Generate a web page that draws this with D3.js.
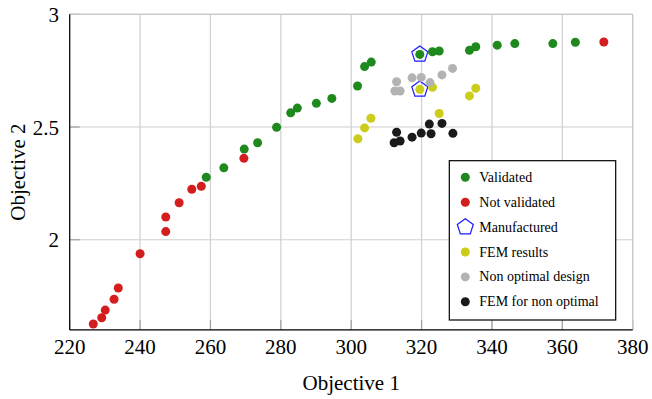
<!DOCTYPE html>
<html><head><meta charset="utf-8">
<script src="https://cdn.jsdelivr.net/npm/d3@7"></script>
<style>body{margin:0;background:#fff}svg{display:block}</style>
</head><body>
<svg id="c" width="652" height="399"></svg>
<script>
const xTicks = [220,240,260,280,300,320,340,360,380];
const yTicks = [2,2.5,3];
const yTickLabels = ["2","2.5","3"];
const xTickLabels = ["220","240","260","280","300","320","340","360","380"];

const validatedX = [258.8,263.8,269.6,273.4,278.8,282.8,284.7,290.1,294.5,301.8,303.8,305.7,319.5,323.1,325.0,333.6,335.4,341.5,346.5,357.3,363.7];
const validatedY = [2.277,2.319,2.402,2.430,2.499,2.563,2.584,2.605,2.627,2.682,2.768,2.788,2.822,2.834,2.837,2.840,2.856,2.863,2.870,2.870,2.876];
const notValidatedX = [226.7,229.1,230.1,232.6,233.8,240.0,247.3,247.3,251.1,254.7,257.4,269.5,371.8];
const notValidatedY = [1.626,1.654,1.688,1.736,1.786,1.938,2.036,2.101,2.164,2.224,2.237,2.361,2.877];
const manufacturedX = [319.5,319.5];
const manufacturedY = [2.822,2.667];
const femX = [301.9,303.8,305.6,319.5,323.1,325.0,333.6,335.4];
const femY = [2.448,2.496,2.539,2.667,2.676,2.560,2.638,2.672];
const nonOptX = [312.9,312.4,313.9,317.3,319.9,322.4,325.8,328.8];
const nonOptY = [2.701,2.660,2.660,2.718,2.720,2.697,2.731,2.760];
const femNonOptX = [312.9,312.2,313.9,317.3,319.9,322.2,322.7,325.8,328.9];
const femNonOptY = [2.477,2.430,2.438,2.455,2.473,2.513,2.470,2.516,2.472];

const seriesNames = ["Validated","Not validated","Manufactured","FEM results","Non optimal design","FEM for non optimal"];

const svg = d3.select("#c");
const L = 69.7, R = 632.7, T = 14.3, B = 329.9;
const x = d3.scaleLinear().domain([220,380]).range([L,R]);
const y = d3.scaleLinear().domain([1.6,3]).range([B,T]);
const font = "'Liberation Serif','Times New Roman',serif";

// grid
const g = svg.append("g");
g.selectAll(".gx").data(xTicks).enter().append("line")
  .attr("x1",d=>x(d)).attr("x2",d=>x(d)).attr("y1",T).attr("y2",B)
  .attr("stroke","#d0d0d0").attr("stroke-width",1.2);
g.selectAll(".gy").data(yTicks).enter().append("line")
  .attr("x1",L).attr("x2",R).attr("y1",d=>y(d)).attr("y2",d=>y(d))
  .attr("stroke","#d0d0d0").attr("stroke-width",1.2);
// inner ticks
g.selectAll(".tx").data(xTicks).enter().append("line")
  .attr("x1",d=>x(d)).attr("x2",d=>x(d)).attr("y1",B).attr("y2",B-10)
  .attr("stroke","#a0a0a0").attr("stroke-width",1.2);
g.selectAll(".ty").data(yTicks).enter().append("line")
  .attr("x1",L).attr("x2",L+10).attr("y1",d=>y(d)).attr("y2",d=>y(d))
  .attr("stroke","#a0a0a0").attr("stroke-width",1.2);
// frame
g.append("line").attr("x1",L).attr("x2",R).attr("y1",T).attr("y2",T).attr("stroke","#c8c8c8").attr("stroke-width",1.2);
g.append("line").attr("x1",R).attr("x2",R).attr("y1",T).attr("y2",B).attr("stroke","#c8c8c8").attr("stroke-width",1.2);
g.append("line").attr("x1",L).attr("x2",R).attr("y1",B).attr("y2",B).attr("stroke","#000").attr("stroke-width",1.2);
g.append("line").attr("x1",L).attr("x2",L).attr("y1",T).attr("y2",B).attr("stroke","#000").attr("stroke-width",1.2);

// tick labels
svg.selectAll(".xl").data(xTicks).enter().append("text")
  .attr("x",d=>x(d)).attr("y",354).attr("text-anchor","middle")
  .attr("font-family",font).attr("font-size",21).text((d,i)=>xTickLabels[i]);
svg.selectAll(".yl").data(yTicks).enter().append("text")
  .attr("x",59).attr("y",d=>y(d)+7.5).attr("text-anchor","end")
  .attr("font-family",font).attr("font-size",21).text((d,i)=>yTickLabels[i]);

// axis titles
svg.append("text").attr("x",(L+R)/2).attr("y",390).attr("text-anchor","middle")
  .attr("font-family",font).attr("font-size",21).text("Objective 1");
svg.append("text").attr("transform",`translate(25,${(T+B)/2}) rotate(-90)`).attr("text-anchor","middle")
  .attr("font-family",font).attr("font-size",21).text("Objective 2");

const colors = {green:"#1e8a1e", red:"#d41e1e", yellow:"#cccc1a", gray:"#b3b3b3", black:"#1a1a1a", blue:"#1a1aff"};
const r = 4.5;
function dots(xs, ys, color){
  svg.append("g").selectAll("circle").data(xs).enter().append("circle")
    .attr("cx",d=>x(d)).attr("cy",(d,i)=>y(ys[i])).attr("r",r).attr("fill",color);
}
const PR = 8.4;
function pentPath(cx, cy){
  const pts = d3.range(5).map(k=>{const a=-Math.PI/2 + k*2*Math.PI/5; return [cx+PR*Math.cos(a), cy+PR*Math.sin(a)];});
  return "M"+pts.map(p=>p.join(",")).join("L")+"Z";
}
dots(validatedX, validatedY, colors.green);
dots(notValidatedX, notValidatedY, colors.red);
svg.append("g").selectAll("path").data(manufacturedX).enter().append("path")
  .attr("d",(d,i)=>pentPath(x(d), y(manufacturedY[i]))).attr("fill","none")
  .attr("stroke",colors.blue).attr("stroke-width",1.2);
dots(femX, femY, colors.yellow);
dots(nonOptX, nonOptY, colors.gray);
dots(femNonOptX, femNonOptY, colors.black);

// legend
const lg = svg.append("g");
lg.append("rect").attr("x",449.3).attr("y",160.7).attr("width",166.4).attr("height",159.3)
  .attr("fill","#fff").attr("stroke","#000").attr("stroke-width",1.2);
const legColors = [colors.green, colors.red, null, colors.yellow, colors.gray, colors.black];
seriesNames.forEach((name,i)=>{
  const cy = 177.3 + i*24.9;
  if (legColors[i]) lg.append("circle").attr("cx",465.3).attr("cy",cy).attr("r",r).attr("fill",legColors[i]);
  else lg.append("path").attr("d",pentPath(465.3,cy)).attr("fill","none").attr("stroke",colors.blue).attr("stroke-width",1.2);
  lg.append("text").attr("x",479.3).attr("y",cy+4.5).attr("font-family",font).attr("font-size",14).text(name);
});
</script>
</body></html>
